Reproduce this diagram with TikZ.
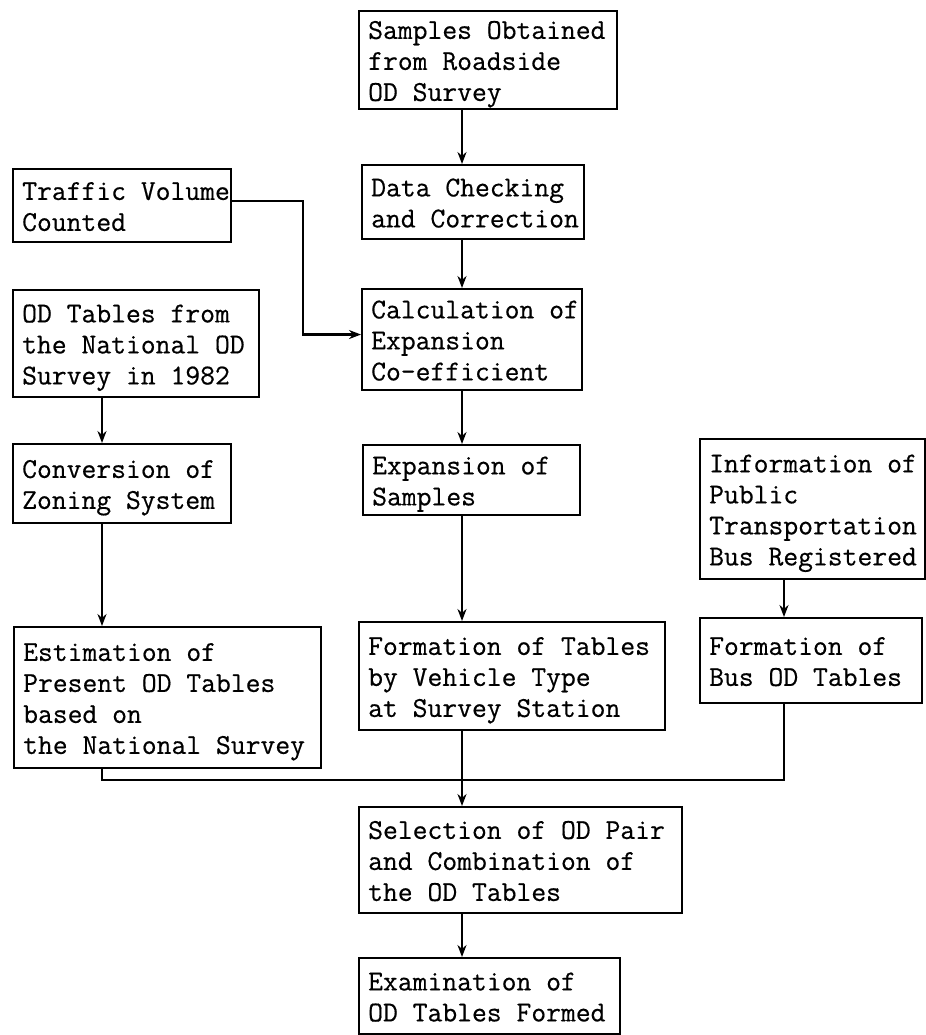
\documentclass[tikz,border=0pt]{standalone}
\usepackage{fontspec}
\setmonofont{Latin Modern Mono}[FakeBold=0.5]
\usetikzlibrary{arrows.meta,calc}
\newcommand{\bx}[2]{\makebox[#1][l]{\raisebox{-1.75pt}[\height][\depth]{\begin{tabular}{@{\hspace{4.5pt}}l@{}}#2\end{tabular}}}}
\begin{document}
\begin{tikzpicture}[x=0.5pt,y=-0.5pt,
  box/.style={draw, line width=1.2pt, inner sep=0pt, anchor=north west,
    font=\ttfamily\bfseries\fontsize{14.4pt}{15.5pt}\selectfont},
  arr/.style={line width=1.1pt, -{Stealth[length=6pt,width=4.5pt]}},
  ln/.style={line width=1.1pt}]
\useasboundingbox (0,0) rectangle (926,1035);
\node[box, minimum height=49pt]   (s1)   at (358,10)  {\bx{129pt}{Samples Obtained\\from Roadside\\OD Survey}};
\node[box, minimum height=36.5pt] (tv)   at (12,168)  {\bx{109pt}{Traffic Volume\\Counted}};
\node[box, minimum height=37pt]   (dc)   at (361,164) {\bx{111pt}{Data Checking\\and Correction}};
\node[box, minimum height=53.5pt] (od)   at (12,289)  {\bx{123pt}{OD Tables from\\the National OD\\Survey in 1982}};
\node[box, minimum height=50.5pt] (calc) at (361,288) {\bx{110pt}{Calculation of\\Expansion\\Co-efficient}};
\node[box, minimum height=39.5pt] (conv) at (12,443)  {\bx{109pt}{Conversion of\\Zoning System}};
\node[box, minimum height=35pt]   (exp)  at (362,444) {\bx{108.5pt}{Expansion of\\Samples}};
\node[box, minimum height=70pt]   (info) at (699,438) {\bx{112.5pt}{Information of\\Public\\Transportation\\Bus Registered}};
\node[box, minimum height=70.5pt] (est)  at (13,626)  {\bx{153.5pt}{Estimation of\\Present OD Tables\\based on\\the National Survey}};
\node[box, minimum height=54pt]   (form) at (358,621) {\bx{153pt}{Formation of Tables\\by Vehicle Type\\at Survey Station}};
\node[box, minimum height=42.5pt] (bus)  at (699,617) {\bx{111pt}{Formation of\\Bus OD Tables}};
\node[box, minimum height=53pt]   (sel)  at (358,806) {\bx{161.5pt}{Selection of OD Pair\\and Combination of\\the OD Tables}};
\node[box, minimum height=38pt]   (exam) at (358,957) {\bx{130.5pt}{Examination of\\OD Tables Formed}};
\coordinate (cx) at (462,0);
\coordinate (lx) at (102,0);
\coordinate (rx) at (784,0);
\coordinate (tx) at (303,0);
\coordinate (my) at (0,780);
\coordinate (tvout) at ($(tv.north east)!0.44!(tv.south east)$);
\coordinate (calcin) at ($(calc.north west)!0.45!(calc.south west)$);
\draw[arr] (s1.south -| cx) -- (dc.north -| cx);
\draw[arr] (dc.south -| cx) -- (calc.north -| cx);
\draw[arr] (tvout) -- (tvout -| tx) -- (tx |- calcin) -- (calcin);
\draw[arr] (od.south -| lx) -- (conv.north -| lx);
\draw[arr] (conv.south -| lx) -- (est.north -| lx);
\draw[arr] (calc.south -| cx) -- (exp.north -| cx);
\draw[arr] (exp.south -| cx) -- (form.north -| cx);
\draw[arr] (info.south -| rx) -- (bus.north -| rx);
\draw[ln] (est.south -| lx) -- (lx |- my) -- (rx |- my) -- (bus.south -| rx);
\draw[arr] (form.south -| cx) -- (sel.north -| cx);
\draw[arr] (sel.south -| cx) -- (exam.north -| cx);
\end{tikzpicture}
\end{document}
